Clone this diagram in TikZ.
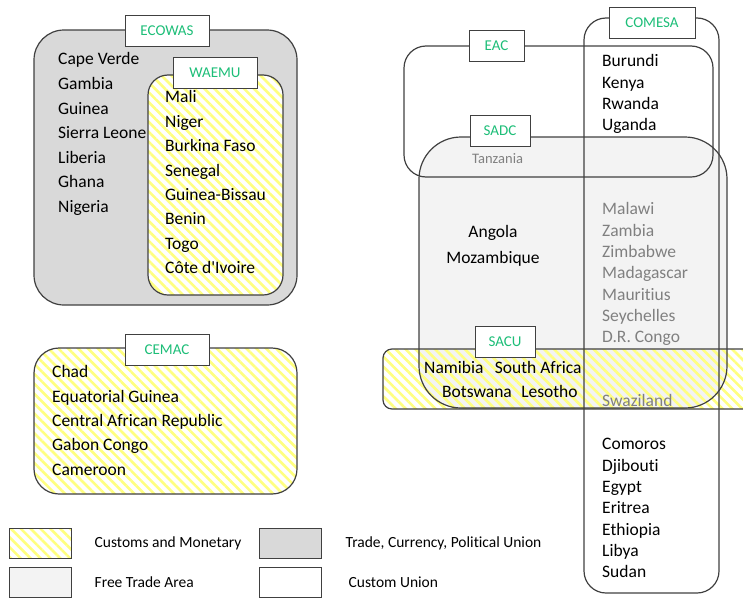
\documentclass[tikz,border=0pt]{standalone}
\usepackage{fontspec}
\setmainfont{Carlito}[Ligatures=NoCommon]
\usetikzlibrary{positioning,patterns.meta}

\definecolor{boxline}{HTML}{404040}
\definecolor{tradegray}{HTML}{D9D9D9}
\definecolor{ftagray}{HTML}{F3F3F3}
\definecolor{hatchyellow}{HTML}{FFFF80}
\definecolor{labelgreen}{HTML}{1DBE78}
\definecolor{fadetext}{HTML}{808080}

\tikzset{
  union/.style = {draw=boxline, line width=1.2pt},
  stripes/.style = {pattern={Lines[angle=-45,distance=7pt,line width=2.6pt]}, pattern color=hatchyellow},
  hatched/.style = {preaction={fill=white}, stripes},
  tag/.style = {draw=boxline, fill=white, line width=1pt, text=labelgreen,
    font=\fontsize{15}{18}\selectfont, inner sep=0pt, minimum height=31pt},
  country/.style = {anchor=west, inner sep=0pt, text height=11.6pt, text depth=0pt,
    font=\fontsize{17.5}{20}\selectfont, text=black},
  faded/.style = {country, text=fadetext},
  keybox/.style = {draw=boxline, line width=1pt, minimum width=62pt, minimum height=30pt, inner sep=0pt},
  keytext/.style = {inner sep=0pt, font=\fontsize{15.5}{18}\selectfont, text=black}
}

\begin{document}
\begin{tikzpicture}[x=1pt, y=-1pt]
  \useasboundingbox (0,0) rectangle (743,597);
  \clip (0,0) rectangle (743,597);

  % west africa
  \draw[union, fill=tradegray, rounded corners=30pt] (34,30) rectangle (297,305);
  \draw[union, hatched, rounded corners=20pt] (148,75) rectangle (283,295);
  \draw[union, hatched, rounded corners=25pt] (34,348) rectangle (297,494);

  % east and south
  \fill[ftagray, rounded corners=42pt] (419,137) rectangle (727,408);
  \path[stripes, rounded corners=9pt] (383,349) rectangle (760,409);
  \draw[union, rounded corners=22pt] (404,46) rectangle (713,177);
  \draw[union, rounded corners=22pt] (584,18) rectangle (719,593);
  \draw[union, rounded corners=42pt] (419,137) rectangle (727,408);
  \draw[union, rounded corners=9pt] (383,349) rectangle (760,409);

  \node[tag, minimum width=84pt] (ecowas) at (167,30.5) {ECOWAS};
  \node[tag, minimum width=84pt] (waemu) at (215,72.5) {WAEMU};
  \node[tag, minimum width=84pt] (cemac) at (167,349.5) {CEMAC};
  \node[tag, minimum width=55pt] (eac) at (496.5,46) {EAC};
  \node[tag, minimum width=86pt] (comesa) at (652,22.5) {COMESA};
  \node[tag, minimum width=60pt] (sadc) at (500,131) {SADC};
  \node[tag, minimum width=60pt] (sacu) at (505,341.5) {SACU};

  \foreach \c [count=\i from 0] in {Cape Verde, Gambia, Guinea, Sierra Leone, Liberia, Ghana, Nigeria}
    \node[country] (eco-\i) at (58,59+24.6*\i) {\c};
  \foreach \c [count=\i from 0] in {Mali, Niger, Burkina Faso, Senegal, Guinea-Bissau, Benin, Togo, Côte d\textquotesingle Ivoire}
    \node[country] (wae-\i) at (165,97+24.4*\i) {\c};
  \foreach \c [count=\i from 0] in {Chad, Equatorial Guinea, Central African Republic, Gabon Congo, Cameroon}
    \node[country] (cem-\i) at (52,372+24.3*\i) {\c};
  \foreach \c [count=\i from 0] in {Burundi, Kenya, Rwanda, Uganda}
    \node[country] (eac-\i) at (602,61+21.3*\i) {\c};
  \foreach \c [count=\i from 0] in {Malawi, Zambia, Zimbabwe, Madagascar, Mauritius, Seychelles, D.R. Congo}
    \node[faded] (sad-\i) at (602,209+21.3*\i) {\c};
  \foreach \c [count=\i from 0] in {Comoros, Djibouti, Egypt, Eritrea, Ethiopia, Libya, Sudan}
    \node[country] (com-\i) at (602,444+21.3*\i) {\c};

  \node[faded, font=\fontsize{14.5}{17}\selectfont] (tanzania) at (472,158) {Tanzania};
  \node[faded] (swaziland) at (602,401) {Swaziland};
  \node[country, anchor=center] (angola) at (493,232) {Angola};
  \node[country, anchor=center] (mozambique) at (493,258) {Mozambique};
  \node[country] (namibia) at (424,368) {Namibia};
  \node[country, right=11pt of namibia] (southafrica) {South Africa};
  \node[country] (botswana) at (442,392) {Botswana};
  \node[country, right=9pt of botswana] (lesotho) {Lesotho};

  % legend
  \node[keybox, hatched] (k1) at (40,543) {};
  \node[keybox, fill=tradegray] (k2) at (290,543) {};
  \node[keybox, fill=ftagray] (k3) at (40,582) {};
  \node[keybox, fill=white] (k4) at (290,582) {};
  \node[keytext, right=23pt of k1] (t1) {Customs and Monetary};
  \node[keytext, right=24pt of k2] (t2) {Trade, Currency, Political Union};
  \node[keytext, right=23pt of k3] (t3) {Free Trade Area};
  \node[keytext, right=27pt of k4] (t4) {Custom Union};
\end{tikzpicture}
\end{document}
